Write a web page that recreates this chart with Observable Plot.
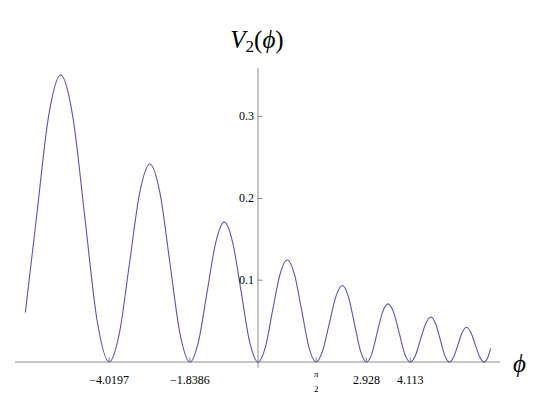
<!DOCTYPE html>
<html><head><meta charset="utf-8">
<script src="https://cdn.jsdelivr.net/npm/d3@7"></script>
<script src="https://cdn.jsdelivr.net/npm/@observablehq/plot@0.6"></script>
<style>
body{margin:0;background:#fff;}
#title{height:60px;box-sizing:border-box;padding-top:28px;line-height:24px;font-family:"Liberation Serif","DejaVu Serif",serif;font-size:25px;width:514px;text-align:center;color:#000;}
#title i{font-style:italic}
#title sub{font-size:17px;vertical-align:-4px;line-height:0}
</style></head><body>
<div id="title"><i>V</i><sub>2</sub>(<i>ϕ</i>)</div>
<div id="chart"></div>
<script>
// curve samples
const phiValues = [
  -6.283, -5.985, -5.658, -5.33, -5.002, -4.675, -4.347, -4.0197,
  -3.745, -3.470, -3.195, -2.92, -2.650, -2.379, -2.109, -1.8386,
  -1.607, -1.374, -1.142, -0.91, -0.683, -0.455, -0.228, 0,
  0.198, 0.395, 0.593, 0.79, 0.985, 1.180, 1.376, 1.5708,
  1.748, 1.925, 2.103, 2.28, 2.442, 2.604, 2.766, 2.928,
  3.074, 3.219, 3.365, 3.51, 3.661, 3.812, 3.962, 4.113,
  4.252, 4.392, 4.531, 4.67, 4.795, 4.92, 5.045, 5.17,
  5.285, 5.40, 5.515, 5.63, 5.75, 5.87, 5.99, 6.11,
  6.2, 6.283
];
const v2Values = [
  0.061, 0.176, 0.300, 0.351, 0.300, 0.176, 0.051, 0,
  0.035, 0.121, 0.207, 0.242, 0.207, 0.121, 0.035, 0,
  0.025, 0.086, 0.146, 0.171, 0.146, 0.086, 0.025, 0,
  0.018, 0.063, 0.107, 0.125, 0.107, 0.063, 0.018, 0,
  0.014, 0.047, 0.080, 0.0935, 0.080, 0.047, 0.014, 0,
  0.010, 0.036, 0.061, 0.071, 0.061, 0.036, 0.010, 0,
  0.008, 0.028, 0.047, 0.055, 0.047, 0.028, 0.008, 0,
  0.006, 0.021, 0.036, 0.0425, 0.036, 0.021, 0.006, 0,
  0.005, 0.016
];
const xTickValues = [-4.0197, -1.8386, Math.PI / 2, 2.928, 4.113];
const xTickLabels = ["−4.0197", "−1.8386", "π/2", "2.928", "4.113"];
const yTickValues = [0.1, 0.2, 0.3];
const yTickLabels = ["0.1", "0.2", "0.3"];

const data = phiValues.map((p, i) => ({phi: p, v: v2Values[i]}));
const plainTicks = xTickValues.map((x, i) => ({x, label: xTickLabels[i]})).filter(d => d.label !== "π/2");
const fracTick = xTickValues.filter((x, i) => xTickLabels[i] === "π/2");
const yTicks = yTickValues.map((y, i) => ({y, label: yTickLabels[i]}));

const axisColor = "#8c8c8c";
const yTop = 0.3588;
const chart = Plot.plot({
  width: 549, height: 342,
  marginLeft: 15, marginRight: 49, marginTop: 8, marginBottom: 40.5,
  x: {domain: [-6.55, 6.55], axis: null},
  y: {domain: [0, yTop], axis: null},
  style: {background: "white", fontFamily: "'Liberation Serif', 'DejaVu Serif', serif", color: "#000"},
  marks: [
    Plot.ruleY([0], {stroke: axisColor, strokeWidth: 1}),
    Plot.ruleX([0], {y1: -0.0075, y2: yTop, stroke: axisColor, strokeWidth: 1}),
    Plot.ruleX(xTickValues, {y1: 0, y2: 0.005, stroke: axisColor}),
    Plot.ruleY(yTickValues, {x1: 0, x2: 0.14, stroke: axisColor}),
    Plot.line(data, {x: "phi", y: "v", curve: "monotone-x", stroke: "#5656b6", strokeWidth: 1.1}),
    Plot.text(plainTicks, {x: "x", y: 0, text: "label", dy: 18, fontSize: 12, fill: "#000"}),
    Plot.text(fracTick, {x: d => d, y: 0, text: () => "π", dy: 12, fontSize: 9, fontStyle: "italic", fill: "#000"}),
    Plot.text(fracTick, {x: d => d, y: 0, text: () => "2", dy: 27, fontSize: 9, fill: "#000"}),
    Plot.text(yTicks, {x: 0, y: "y", text: "label", dx: -4, textAnchor: "end", fontSize: 12, fill: "#000"}),
    Plot.text(["ϕ"], {x: 6.55, y: 0, text: d => d, dx: 19, dy: 2, fontSize: 25, fontStyle: "italic", fill: "#000"})
  ]
});
document.getElementById("chart").appendChild(chart);
</script>
</body></html>
